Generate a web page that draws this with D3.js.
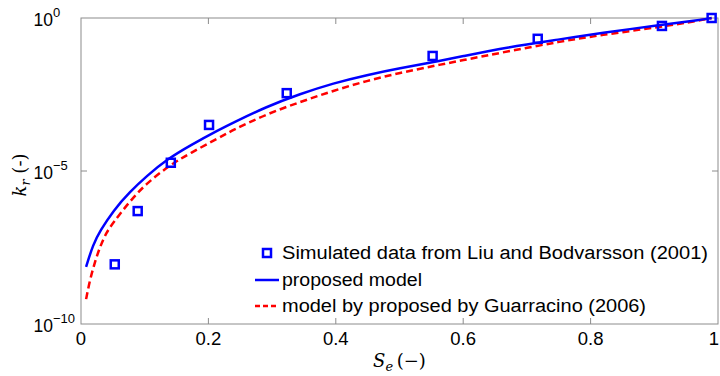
<!DOCTYPE html>
<html lang="en">
<head>
  <meta charset="UTF-8">
  <title>Relative permeability</title>
  <script src="https://d3js.org/d3.v7.min.js"></script>
  <style>
    body { margin: 0; padding: 0; background: #fff; }
    svg { display: block; font-family: Arial, "Liberation Sans", sans-serif; }
    .tick-label { font-size: 18.5px; fill: #000; }
    .legend-text { font-size: 18px; fill: #000; }
    .math { font-family: "DejaVu Serif", "Liberation Serif", serif; }
  </style>
</head>
<body>
  <div id="chart"></div>

  <script>
    // simulated data (Liu and Bodvarsson 2001)
    const simSe = [0.053, 0.089, 0.141, 0.201, 0.323, 0.552, 0.717, 0.912, 0.99];
    const simKr = [8.9e-9, 4.9e-7, 1.86e-5, 3.2e-4, 3.5e-3, 0.0575, 0.209, 0.55, 1];

    // proposed model curve
    const propSe = [0.008, 0.019, 0.03, 0.051, 0.077, 0.103, 0.135, 0.171, 0.218, 0.239, 0.291,
                    0.344, 0.396, 0.449, 0.501, 0.553, 0.595, 0.67, 0.752, 0.815, 0.909, 0.972, 0.99];
    const propKr = [7.4e-9, 4.0e-8, 1.1e-7, 5.2e-7, 2.1e-6, 6.8e-6, 2.4e-5, 6.8e-5, 2.3e-4, 3.8e-4, 1.26e-3,
                    3.3e-3, 7.4e-3, 1.38e-2, 2.3e-2, 3.6e-2, 5.4e-2, 0.112, 0.2, 0.32, 0.59, 0.85, 1];

    // Guarracino (2006) model curve
    const guarSe = [0.008, 0.014, 0.022, 0.03, 0.04, 0.051, 0.077, 0.103, 0.14, 0.171, 0.218, 0.239, 0.291,
                    0.344, 0.396, 0.449, 0.501, 0.553, 0.595, 0.67, 0.752, 0.815, 0.909, 0.972, 0.99];
    const guarKr = [6.5e-10, 2.75e-9, 1.1e-8, 3.4e-8, 1.0e-7, 2.1e-7, 1.05e-6, 4.0e-6, 1.58e-5, 3.8e-5, 1.26e-4, 2.2e-4, 7.2e-4,
                    1.8e-3, 4.2e-3, 8.9e-3, 1.62e-2, 2.7e-2, 4.0e-2, 0.081, 0.17, 0.275, 0.51, 0.83, 1];

    const xTicks = [0, 0.2, 0.4, 0.6, 0.8, 1];
    const xTickLabels = ["0", "0.2", "0.4", "0.6", "0.8", "1"];
    const yTicks = [1e-10, 1e-5, 1];
    const yTickExp = ["\u221210", "\u22125", "0"];

    const legendLabels = [
      "Simulated data from Liu and Bodvarsson (2001)",
      "proposed model",
      "model by proposed by Guarracino (2006)"
    ];
    const legendWidths = [426, 140, 364];

    const width = 720, height = 376;
    const margin = { top: 18, right: 2, bottom: 52, left: 81 };
    const axisColor = "#8c8c8c";

    const svg = d3.select("#chart").append("svg")
      .attr("width", width)
      .attr("height", height);

    const x = d3.scaleLinear().domain([0, 1]).range([margin.left, width - margin.right]);
    const y = d3.scaleLog().domain([1e-10, 1]).range([height - margin.bottom, margin.top]);

    const x0 = x.range()[0], x1 = x.range()[1];
    const yTop = y.range()[1], yBot = y.range()[0];

    // frame
    svg.append("rect")
      .attr("x", x0).attr("y", yTop)
      .attr("width", x1 - x0).attr("height", yBot - yTop)
      .attr("fill", "none")
      .attr("stroke", axisColor)
      .attr("stroke-width", 1);

    // x ticks (bottom + top, inward)
    const tickLen = 6;
    xTicks.forEach((t, i) => {
      if (i > 0 && i < xTicks.length - 1) {
        svg.append("line").attr("x1", x(t)).attr("x2", x(t))
          .attr("y1", yBot).attr("y2", yBot - tickLen)
          .attr("stroke", axisColor);
        svg.append("line").attr("x1", x(t)).attr("x2", x(t))
          .attr("y1", yTop).attr("y2", yTop + tickLen)
          .attr("stroke", axisColor);
      }
      svg.append("text").attr("class", "tick-label")
        .attr("x", Math.min(x(t), width - 6)).attr("y", yBot + 21)
        .attr("text-anchor", "middle")
        .text(xTickLabels[i]);
    });

    // y ticks (left + right, inward)
    yTicks.forEach((t, i) => {
      if (i > 0 && i < yTicks.length - 1) {
        svg.append("line").attr("x1", x0).attr("x2", x0 + tickLen)
          .attr("y1", y(t)).attr("y2", y(t)).attr("stroke", axisColor);
        svg.append("line").attr("x1", x1).attr("x2", x1 - tickLen)
          .attr("y1", y(t)).attr("y2", y(t)).attr("stroke", axisColor);
      }
      svg.append("text")
        .attr("x", 53).attr("y", y(t) + 8)
        .attr("text-anchor", "end")
        .style("font-size", "17.5px")
        .text("10");
      svg.append("text")
        .attr("x", 53).attr("y", y(t) - 1)
        .style("font-size", "13px")
        .text(yTickExp[i]);
    });

    // curves
    const line = d3.line()
      .x(d => x(d[0]))
      .y(d => y(d[1]))
      .curve(d3.curveBasis);

    svg.append("path")
      .datum(guarSe.map((s, i) => [s, guarKr[i]]))
      .attr("d", line)
      .attr("fill", "none")
      .attr("stroke", "#ff0000")
      .attr("stroke-width", 2.5)
      .attr("stroke-dasharray", "7,4");

    svg.append("path")
      .datum(propSe.map((s, i) => [s, propKr[i]]))
      .attr("d", line)
      .attr("fill", "none")
      .attr("stroke", "#0000ff")
      .attr("stroke-width", 2.5);

    const sq = 8;
    svg.append("g").selectAll("rect")
      .data(simSe.map((s, i) => [s, simKr[i]]))
      .join("rect")
      .attr("x", d => x(d[0]) - sq / 2)
      .attr("y", d => y(d[1]) - sq / 2)
      .attr("width", sq).attr("height", sq)
      .attr("fill", "none")
      .attr("stroke", "#0000ff")
      .attr("stroke-width", 2.5);

    // legend (no box)
    const lg = svg.append("g");
    const lgX = 255, lgTextX = 282, lgRows = [253, 280, 306];
    lg.append("rect")
      .attr("x", 267 - sq / 2).attr("y", lgRows[0] - sq / 2)
      .attr("width", sq).attr("height", sq)
      .attr("fill", "none").attr("stroke", "#0000ff").attr("stroke-width", 2.5);
    lg.append("line")
      .attr("x1", lgX).attr("x2", 279).attr("y1", lgRows[1]).attr("y2", lgRows[1])
      .attr("stroke", "#0000ff").attr("stroke-width", 2.5);
    lg.append("line")
      .attr("x1", lgX).attr("x2", 279).attr("y1", lgRows[2]).attr("y2", lgRows[2])
      .attr("stroke", "#ff0000").attr("stroke-width", 2.5)
      .attr("stroke-dasharray", "5,3");
    legendLabels.forEach((t, i) => {
      lg.append("text").attr("class", "legend-text")
        .attr("x", lgTextX).attr("y", lgRows[i] + 6)
        .attr("textLength", legendWidths[i])
        .attr("lengthAdjust", "spacingAndGlyphs")
        .text(t);
    });

    // axis labels
    const xl = svg.append("text").attr("class", "math")
      .attr("x", (x0 + x1) / 2).attr("y", 367)
      .attr("text-anchor", "middle")
      .style("font-size", "18px");
    xl.append("tspan").style("font-style", "italic").text("S");
    xl.append("tspan").style("font-style", "italic").style("font-size", "13px")
      .attr("dy", 4).text("e");
    xl.append("tspan").attr("dy", -4).text("\u2009(\u2212)");

    const yl = svg.append("text").attr("class", "math")
      .attr("transform", `translate(26, ${(yTop + yBot) / 2 + 4}) rotate(-90)`)
      .attr("text-anchor", "middle")
      .style("font-size", "18px");
    yl.append("tspan").style("font-style", "italic").text("k");
    yl.append("tspan").style("font-style", "italic").style("font-size", "13px")
      .attr("dy", 4).text("r");
    yl.append("tspan").attr("dy", -4).text(" (-)");
  </script>
</body>
</html>
